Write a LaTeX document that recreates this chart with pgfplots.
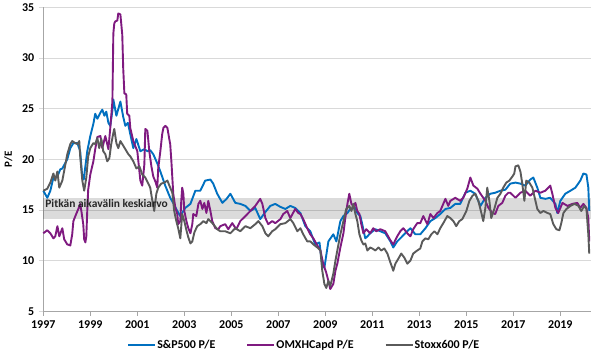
\documentclass[border=0pt]{standalone}
\usepackage{fontspec}
\setmainfont{Carlito}
\usepackage{pgfplots}
\pgfplotsset{compat=1.18}
\definecolor{spblue}{HTML}{0070C0}
\definecolor{omxpurple}{HTML}{7F1A80}
\definecolor{stoxxgray}{HTML}{5A5A5A}
\definecolor{gridgray}{HTML}{D9D9D9}
\definecolor{axisgray}{HTML}{A6A6A6}
\definecolor{bandtext}{HTML}{262626}

\pgfplotstableread{
x y
1997.00 16.9
1997.17 16.2
1997.30 16.9
1997.43 18.2
1997.60 18.3
1997.72 19.0
1997.81 19.1
1998.02 20.0
1998.15 21.1
1998.28 21.6
1998.45 21.6
1998.57 20.8
1998.66 18.2
1998.72 18.0
1998.87 20.8
1999.00 22.3
1999.13 23.5
1999.21 24.5
1999.30 24.0
1999.43 24.6
1999.51 24.9
1999.60 24.3
1999.68 24.7
1999.77 23.6
1999.85 23.3
1999.94 24.8
1999.98 25.9
2000.11 24.3
2000.28 25.7
2000.40 24.2
2000.49 23.3
2000.60 23.6
2000.70 22.5
2000.83 21.1
2000.96 22.0
2001.13 20.8
2001.30 21.0
2001.43 20.8
2001.55 20.9
2001.68 20.5
2001.85 19.6
2001.98 18.8
2002.19 17.4
2002.40 16.2
2002.55 15.6
2002.70 14.9
2002.83 14.4
2003.04 15.2
2003.26 15.6
2003.47 16.9
2003.68 16.9
2003.89 17.9
2004.11 18.0
2004.23 17.6
2004.40 16.6
2004.62 15.7
2004.80 16.1
2004.96 16.6
2005.17 15.7
2005.38 15.6
2005.60 15.4
2005.81 14.9
2006.02 15.2
2006.23 14.1
2006.45 14.8
2006.66 15.4
2006.87 15.6
2007.09 15.3
2007.30 15.1
2007.51 15.4
2007.72 15.2
2007.94 14.7
2008.15 13.4
2008.36 12.9
2008.57 11.6
2008.75 11.8
2008.87 9.5
2008.96 9.3
2009.13 11.9
2009.34 12.6
2009.47 11.9
2009.64 13.9
2009.77 14.4
2009.94 14.7
2010.06 15.1
2010.28 15.2
2010.36 14.7
2010.49 14.4
2010.57 13.6
2010.70 12.2
2010.79 12.4
2010.91 12.7
2011.13 13.1
2011.34 12.9
2011.55 12.7
2011.77 11.9
2011.89 11.3
2012.06 11.9
2012.19 12.2
2012.40 12.7
2012.62 13.2
2012.83 12.6
2013.04 12.6
2013.26 13.2
2013.47 13.9
2013.68 14.2
2013.89 14.6
2014.11 15.1
2014.32 15.2
2014.53 15.6
2014.74 15.6
2014.96 16.7
2015.17 16.9
2015.38 16.6
2015.60 15.4
2015.81 16.2
2016.02 16.6
2016.23 16.7
2016.45 16.9
2016.66 17.0
2016.87 17.6
2017.09 17.7
2017.30 17.6
2017.51 17.4
2017.72 18.0
2017.85 18.2
2018.02 17.2
2018.15 16.2
2018.36 16.1
2018.57 16.2
2018.79 15.6
2018.87 14.7
2019.00 15.9
2019.21 16.6
2019.43 16.9
2019.64 17.2
2019.85 17.9
2019.98 18.6
2020.11 18.5
2020.19 17.2
2020.23 14.9
}\spdata

\pgfplotstableread{
x y
1997.00 12.7
1997.17 13.0
1997.30 12.7
1997.43 12.2
1997.51 12.4
1997.60 13.4
1997.68 12.4
1997.81 13.2
1997.89 12.1
1998.02 11.6
1998.15 11.5
1998.23 12.6
1998.28 13.9
1998.40 14.6
1998.49 15.1
1998.57 15.6
1998.62 14.9
1998.70 13.6
1998.74 12.1
1998.79 11.8
1998.83 12.4
1998.87 14.9
1998.91 17.0
1999.00 18.5
1999.13 19.8
1999.21 21.0
1999.30 22.2
1999.43 22.3
1999.51 21.1
1999.64 22.3
1999.77 21.0
1999.85 23.1
1999.94 25.7
1999.98 32.4
2000.02 33.4
2000.06 33.6
2000.15 33.7
2000.19 34.4
2000.28 34.3
2000.36 32.3
2000.40 29.0
2000.45 26.5
2000.53 26.4
2000.57 24.5
2000.66 24.3
2000.70 23.1
2000.83 21.8
2001.00 20.8
2001.13 17.9
2001.21 17.4
2001.30 19.5
2001.34 23.0
2001.43 22.8
2001.51 20.8
2001.60 19.3
2001.68 18.3
2001.77 17.8
2001.85 17.2
2001.89 19.1
2001.98 20.8
2002.06 22.5
2002.11 23.1
2002.19 23.3
2002.28 23.1
2002.36 22.0
2002.40 21.5
2002.45 19.8
2002.49 18.2
2002.53 16.6
2002.62 15.2
2002.70 14.6
2002.74 13.6
2002.83 13.9
2002.87 15.9
2002.91 17.2
2002.96 16.6
2003.00 14.9
2003.09 13.9
2003.17 13.2
2003.26 12.7
2003.34 13.6
2003.38 14.6
2003.51 14.4
2003.60 15.6
2003.68 15.9
2003.77 15.1
2003.85 15.7
2003.94 14.7
2004.02 15.9
2004.11 14.9
2004.19 13.9
2004.32 13.2
2004.45 13.1
2004.53 13.4
2004.74 13.6
2004.87 13.1
2005.04 13.7
2005.21 13.1
2005.38 13.9
2005.60 14.4
2005.81 14.9
2006.02 15.4
2006.23 16.1
2006.32 15.6
2006.45 14.2
2006.57 13.6
2006.74 13.9
2006.87 13.7
2007.09 14.1
2007.21 14.6
2007.38 14.9
2007.51 14.2
2007.72 15.1
2007.85 14.7
2007.94 14.6
2008.06 14.1
2008.23 13.2
2008.36 12.6
2008.49 12.2
2008.66 11.5
2008.79 11.0
2008.91 9.7
2009.04 8.8
2009.13 8.0
2009.21 7.2
2009.34 7.7
2009.43 9.0
2009.51 9.7
2009.64 11.3
2009.77 12.7
2009.85 14.2
2009.94 15.6
2010.02 16.6
2010.11 15.6
2010.19 15.4
2010.28 15.7
2010.36 14.9
2010.45 14.6
2010.53 13.6
2010.62 12.7
2010.74 13.1
2010.91 12.7
2011.04 13.2
2011.17 12.9
2011.34 13.1
2011.55 12.9
2011.77 12.0
2011.89 11.6
2012.06 12.4
2012.19 12.9
2012.32 13.2
2012.49 12.7
2012.62 12.4
2012.74 13.1
2012.91 13.7
2013.04 13.7
2013.17 14.4
2013.34 13.6
2013.47 14.6
2013.60 14.2
2013.77 14.7
2013.89 14.9
2014.11 16.1
2014.23 15.4
2014.32 15.9
2014.53 16.2
2014.74 15.9
2014.87 16.2
2015.04 17.1
2015.17 18.2
2015.30 17.4
2015.47 17.1
2015.60 16.6
2015.81 15.9
2015.94 15.2
2016.11 14.7
2016.23 14.6
2016.36 15.4
2016.53 15.7
2016.66 16.4
2016.79 16.7
2016.87 16.7
2017.09 16.2
2017.30 16.7
2017.51 16.9
2017.72 16.4
2017.94 16.9
2018.15 16.7
2018.36 16.9
2018.57 17.4
2018.66 16.6
2018.79 15.2
2018.91 14.7
2019.09 15.7
2019.30 15.4
2019.51 15.6
2019.72 15.7
2019.85 15.2
2019.98 15.6
2020.11 15.2
2020.19 14.2
2020.23 11.9
}\omxdata

\pgfplotstableread{
x y
1997.00 16.9
1997.17 17.1
1997.30 17.7
1997.43 18.6
1997.51 17.9
1997.60 18.8
1997.68 17.2
1997.81 17.9
1997.94 19.5
1998.02 20.5
1998.15 21.5
1998.23 21.8
1998.36 21.6
1998.45 21.5
1998.53 21.8
1998.57 20.3
1998.66 17.9
1998.74 16.9
1998.83 18.2
1998.91 20.3
1999.00 21.1
1999.13 21.6
1999.21 21.5
1999.30 22.1
1999.38 21.1
1999.47 22.0
1999.55 20.8
1999.64 20.5
1999.72 19.8
1999.81 20.1
1999.89 21.5
1999.98 22.6
2000.02 23.0
2000.11 21.6
2000.19 21.1
2000.28 21.8
2000.36 21.5
2000.49 21.0
2000.62 20.5
2000.70 20.3
2000.83 19.8
2000.96 19.1
2001.09 19.3
2001.21 18.5
2001.34 18.2
2001.47 17.6
2001.55 17.2
2001.64 15.9
2001.72 14.9
2001.81 16.6
2001.89 17.2
2002.02 17.6
2002.15 17.7
2002.28 17.9
2002.40 17.2
2002.49 16.7
2002.57 14.9
2002.66 13.9
2002.74 13.2
2002.83 12.2
2002.91 14.6
2003.00 13.9
2003.09 13.0
2003.17 12.3
2003.26 11.7
2003.34 11.9
2003.43 12.8
2003.55 13.4
2003.68 13.6
2003.81 13.9
2003.94 13.7
2004.02 14.1
2004.11 13.9
2004.23 13.6
2004.40 13.1
2004.53 12.9
2004.74 12.9
2004.96 12.7
2005.17 13.2
2005.38 12.9
2005.60 13.4
2005.81 13.2
2006.02 13.6
2006.15 13.9
2006.32 13.4
2006.45 12.7
2006.57 12.4
2006.74 12.9
2006.87 13.1
2007.09 13.6
2007.30 13.7
2007.51 14.1
2007.64 13.7
2007.81 12.9
2007.94 13.2
2008.06 12.6
2008.23 11.9
2008.36 11.9
2008.49 11.6
2008.66 11.3
2008.79 11.0
2008.87 9.0
2008.96 7.7
2009.04 7.3
2009.13 8.0
2009.21 7.5
2009.34 8.7
2009.43 10.0
2009.51 11.0
2009.64 12.6
2009.77 13.9
2009.89 15.1
2010.02 15.4
2010.11 14.9
2010.19 15.6
2010.28 14.6
2010.36 13.9
2010.45 12.6
2010.53 12.0
2010.62 11.6
2010.70 11.7
2010.79 11.0
2010.91 11.3
2011.00 11.2
2011.13 11.0
2011.26 11.3
2011.38 11.0
2011.51 11.2
2011.64 10.7
2011.77 9.8
2011.85 9.3
2011.89 9.0
2011.98 9.7
2012.11 10.2
2012.23 10.7
2012.36 10.3
2012.49 9.7
2012.62 10.0
2012.74 10.7
2012.91 11.0
2013.04 11.2
2013.13 11.9
2013.26 12.2
2013.38 12.1
2013.51 12.6
2013.64 12.9
2013.77 12.6
2013.89 13.2
2014.02 13.7
2014.19 14.4
2014.32 14.2
2014.45 13.9
2014.57 13.4
2014.70 13.9
2014.83 14.1
2015.00 14.9
2015.13 15.9
2015.26 16.4
2015.38 16.6
2015.51 15.9
2015.64 14.7
2015.72 13.9
2015.81 15.2
2015.89 17.2
2015.98 15.9
2016.06 14.2
2016.19 15.1
2016.32 16.2
2016.45 16.6
2016.57 17.2
2016.70 17.7
2016.83 17.9
2016.96 18.3
2017.04 18.6
2017.09 19.3
2017.21 19.4
2017.30 18.8
2017.38 17.6
2017.47 15.9
2017.55 17.9
2017.68 17.7
2017.81 17.2
2017.94 15.9
2018.02 15.1
2018.15 14.7
2018.28 14.9
2018.45 14.7
2018.57 14.6
2018.70 13.6
2018.83 13.1
2018.96 13.0
2019.04 13.7
2019.13 14.7
2019.26 15.1
2019.43 15.4
2019.60 15.6
2019.77 15.4
2019.89 14.9
2020.02 15.4
2020.11 15.1
2020.19 12.6
2020.23 10.7
}\stoxxdata

\begin{document}
\begin{tikzpicture}
\begin{axis}[
  name=ax, at={(0,0)}, anchor=south west,
  scale only axis, width=547.6bp, height=304bp,
  xmin=1997, xmax=2020.3, ymin=5, ymax=35,
  xtick={1997,1999,...,2019}, ytick={5,10,...,35},
  axis x line=bottom, axis y line=left,
  axis line style={-, draw=axisgray, line width=0.8bp},
  ymajorgrids, major grid style={draw=gridgray, line width=0.8bp},
  tick align=outside, major tick length=4.5bp,
  xtick style={draw=axisgray, line width=0.8bp},
  ytick style={draw=gridgray, line width=0.8bp},
  /pgf/number format/assume math mode=true,
  /pgf/number format/1000 sep={},
  ticklabel style={font=\fontsize{12}{14}\selectfont\bfseries, text=black},
  xticklabel style={yshift=-1bp},
  yticklabel style={xshift=-1bp},
  ylabel={P/E},
  ylabel style={font=\fontsize{11}{13}\selectfont\bfseries, at={(axis description cs:-0.064,0.5)}, anchor=center},
  legend columns=3,
  legend style={at={(axis description cs:0.153,-0.110)}, anchor=west, draw=none, fill=none,
    font=\fontsize{12}{14}\selectfont\bfseries, inner sep=0pt,
    /tikz/every even column/.append style={column sep=30bp},
    nodes={inner xsep=1bp, inner ysep=1bp}},
  legend image code/.code={\draw[#1, line width=2bp] (0bp,0bp) -- (27bp,0bp);},
  clip=false,
]
\addplot[draw=none, fill=black, fill opacity=0.14, forget plot]
  coordinates {(1997,14.1) (2020.3,14.1) (2020.3,16.2) (1997,16.2)} -- cycle;
\addplot[spblue, line width=1.9bp, line join=round] table {\spdata};
\addlegendentry{S\&P500 P/E}
\addplot[omxpurple, line width=1.9bp, line join=round] table {\omxdata};
\addlegendentry{OMXHCapd P/E\hspace{10bp}}
\addplot[stoxxgray, line width=1.9bp, line join=round] table {\stoxxdata};
\addlegendentry{Stoxx600 P/E}
\node[anchor=west, font=\fontsize{11.5}{13}\selectfont\bfseries, text=bandtext, inner sep=0pt]
  at (axis cs:1997.08,15.65) {Pitkän aikavälin keskiarvo};
\end{axis}
\pgfresetboundingbox
\path[use as bounding box] ([shift={(-43.3bp,-44.7bp)}]ax.south west) rectangle ([shift={(10.1bp,7.3bp)}]ax.north east);
\end{tikzpicture}
\end{document}
